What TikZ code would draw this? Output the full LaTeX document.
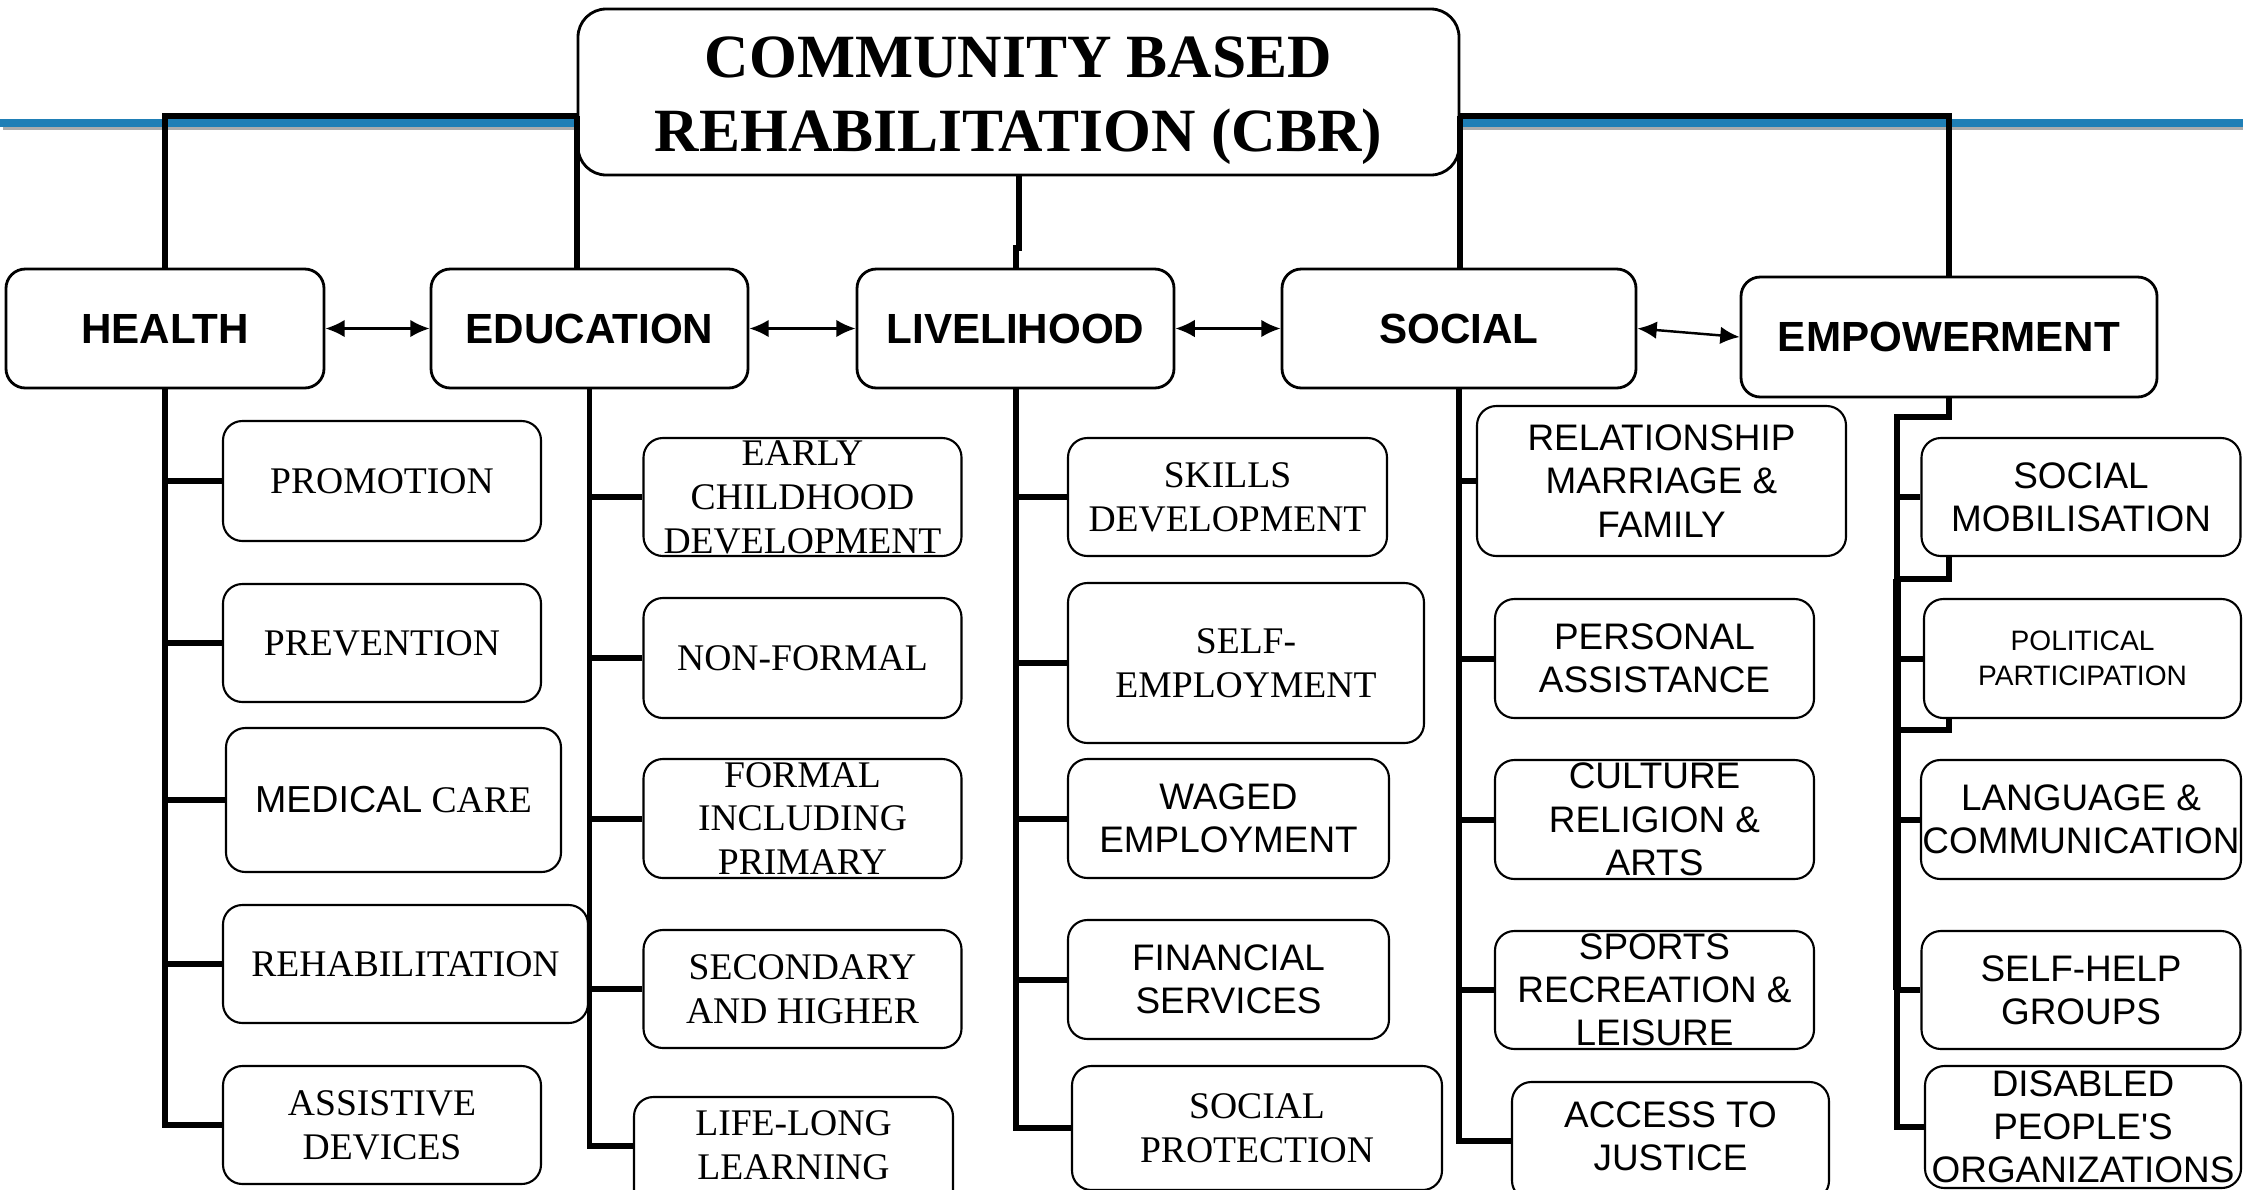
\documentclass[tikz,border=0pt]{standalone}
\usepackage{fontspec}
\setmainfont{Liberation Serif}
\setsansfont{Liberation Sans}[Ligatures=TeXOff]
\usetikzlibrary{arrows.meta}
\definecolor{barblue}{RGB}{31,127,182}

\begin{document}
\begin{tikzpicture}[
  every node/.style={draw, fill=white, rounded corners=5.5pt, align=center, inner sep=0pt},
  head/.style={line width=0.8pt, font=\sffamily\bfseries\fontsize{12}{14}\selectfont, minimum height=1.19cm},
  sub/.style={line width=0.6pt, font=\fontsize{10.7}{12.5}\selectfont},
  subsf/.style={line width=0.6pt, font=\sffamily\fontsize{10.5}{12.3}\selectfont},
  trunk/.style={line width=1.7pt},
  link/.style={{Latex[length=5.5pt,width=5pt]}-{Latex[length=5.5pt,width=5pt]}, line width=0.7pt}]
\useasboundingbox (0,0) rectangle (22.43,-11.89);
\clip (0,0) rectangle (22.43,-11.89);

% blue rule behind the title
\draw[gray!65, line width=0.85pt] (0.03,-1.285) -- (22.43,-1.285);
\draw[barblue, line width=2.3pt] (0,-1.23) -- (22.43,-1.23);
\coordinate (bar) at (0,-1.16);

% title and the five components
\node[line width=0.8pt, rounded corners=8pt, minimum width=8.81cm, minimum height=1.66cm,
  font=\bfseries\fontsize{17.5}{21}\selectfont] (title) at (10.185,-0.92) {\rule{0pt}{16.5pt}COMMUNITY BASED\\REHABILITATION (CBR)};
\node[head, minimum width=3.18cm] (health) at (1.650,-3.285) {HEALTH};
\node[head, minimum width=3.17cm] (education) at (5.895,-3.285) {EDUCATION};
\node[head, minimum width=3.17cm] (livelihood) at (10.155,-3.285) {LIVELIHOOD};
\node[head, minimum width=3.54cm] (social) at (14.590,-3.285) {SOCIAL};
\node[head, minimum width=4.16cm, minimum height=1.20cm] (empowerment) at (19.490,-3.370) {EMPOWERMENT};

% health
\node[sub, minimum width=3.18cm, minimum height=1.20cm] (promotion) at (3.820,-4.810) {PROMOTION};
\node[sub, minimum width=3.18cm, minimum height=1.18cm] (prevention) at (3.820,-6.430) {PREVENTION};
\node[sub, minimum width=3.35cm, minimum height=1.44cm] (medical) at (3.935,-8.000) {{\sffamily MEDICAL} CARE};
\node[sub, minimum width=3.65cm, minimum height=1.18cm] (rehab) at (4.055,-9.640) {REHABILITATION};
\node[sub, minimum width=3.18cm, minimum height=1.18cm] (assistive) at (3.820,-11.250) {ASSISTIVE\\DEVICES};

% education
\node[sub, minimum width=3.18cm, minimum height=1.18cm] (early) at (8.025,-4.970) {EARLY\\CHILDHOOD\\DEVELOPMENT};
\node[sub, minimum width=3.18cm, minimum height=1.20cm] (nonformal) at (8.025,-6.580) {NON-FORMAL};
\node[sub, minimum width=3.18cm, minimum height=1.19cm] (formal) at (8.025,-8.185) {FORMAL\\INCLUDING\\PRIMARY};
\node[sub, minimum width=3.18cm, minimum height=1.18cm] (secondary) at (8.025,-9.890) {SECONDARY\\AND HIGHER};
\node[sub, minimum width=3.19cm, minimum height=1.18cm] (lifelong) at (7.935,-11.560) {LIFE-LONG\\LEARNING\rule[-6pt]{0pt}{6pt}};

% livelihood
\node[sub, minimum width=3.19cm, minimum height=1.18cm] (skills) at (12.275,-4.970) {SKILLS\\DEVELOPMENT};
\node[sub, minimum width=3.56cm, minimum height=1.60cm] (selfemp) at (12.460,-6.630) {SELF-\\EMPLOYMENT};
\node[subsf, minimum width=3.21cm, minimum height=1.19cm] (waged) at (12.285,-8.185) {WAGED\\EMPLOYMENT};
\node[subsf, minimum width=3.21cm, minimum height=1.19cm] (financial) at (12.285,-9.795) {FINANCIAL\\SERVICES};
\node[sub, minimum width=3.70cm, minimum height=1.24cm] (socprot) at (12.570,-11.280) {SOCIAL\\PROTECTION};

% social
\node[subsf, minimum width=3.69cm, minimum height=1.50cm] (relation) at (16.615,-4.810) {RELATIONSHIP\\MARRIAGE \&\\FAMILY};
\node[subsf, minimum width=3.19cm, minimum height=1.19cm] (personal) at (16.545,-6.585) {PERSONAL\\ASSISTANCE};
\node[subsf, minimum width=3.19cm, minimum height=1.19cm] (culture) at (16.545,-8.195) {CULTURE\\RELIGION \&\\ARTS};
\node[subsf, minimum width=3.19cm, minimum height=1.18cm] (sports) at (16.545,-9.900) {SPORTS\\RECREATION \&\\LEISURE};
\node[subsf, minimum width=3.17cm, minimum height=1.18cm] (justice) at (16.705,-11.410) {ACCESS TO\\JUSTICE\rule[-3pt]{0pt}{3pt}};

% empowerment
\node[subsf, minimum width=3.19cm, minimum height=1.18cm] (mobil) at (20.810,-4.970) {SOCIAL\\MOBILISATION};
\node[subsf, minimum width=3.17cm, minimum height=1.19cm, font=\sffamily\fontsize{8}{9.8}\selectfont] (politic) at (20.825,-6.585) {POLITICAL\\PARTICIPATION};
\node[subsf, minimum width=3.20cm, minimum height=1.19cm] (language) at (20.810,-8.195) {LANGUAGE \&\\COMMUNICATION};
\node[subsf, minimum width=3.19cm, minimum height=1.18cm] (selfhelp) at (20.810,-9.900) {SELF-HELP\\GROUPS};
\node[subsf, minimum width=3.16cm, minimum height=1.22cm] (disabled) at (20.830,-11.270) {DISABLED\\PEOPLE'S\\ORGANIZATIONS};

% links from the title
\draw[trunk] (health.north) |- (title.west |- bar);
\draw[trunk] (title.west |- bar) -- (title.west |- education.north);
\draw[trunk] (title.south) -- ++(0,-0.72) -| (livelihood.north);
\draw[trunk] (title.east |- bar) -- (title.east |- social.north);
\draw[trunk] (title.east |- bar) -| (empowerment.north);

% arrows between components
\draw[link] (health.east) -- (education.west);
\draw[link] (education.east) -- (livelihood.west);
\draw[link] (livelihood.east) -- (social.west);
\draw[link] (social.east) -- (empowerment.west);

% health branches
\draw[trunk] (health.south) |- (promotion.west);
\draw[trunk] (health.south) |- (prevention.west);
\draw[trunk] (health.south) |- (medical.west);
\draw[trunk] (health.south) |- (rehab.west);
\draw[trunk] (health.south) |- (assistive.west);

% education branches
\draw[trunk] (education.south) |- (early.west);
\draw[trunk] (education.south) |- (nonformal.west);
\draw[trunk] (education.south) |- (formal.west);
\draw[trunk] (education.south) |- (secondary.west);
\draw[trunk] (education.south) |- ([yshift=0.1cm]lifelong.west);

% livelihood branches
\draw[trunk] (livelihood.south) |- (skills.west);
\draw[trunk] (livelihood.south) |- (selfemp.west);
\draw[trunk] (livelihood.south) |- (waged.west);
\draw[trunk] (livelihood.south) |- (financial.west);
\draw[trunk] (livelihood.south) |- (socprot.west);

% social branches
\draw[trunk] (social.south) |- (relation.west);
\draw[trunk] (social.south) |- (personal.west);
\draw[trunk] (social.south) |- (culture.west);
\draw[trunk] (social.south) |- (sports.west);
\draw[trunk] (social.south) |- (justice.west);

% empowerment branches
\coordinate (e1) at (18.97,-4.17);
\coordinate (e2) at (18.97,-5.79);
\coordinate (e3) at (18.97,-7.30);
\coordinate (e4) at (18.97,-9.90);
\draw[trunk] (empowerment.south) |- (e1) |- (mobil.west);
\draw[trunk] (e1) -- (e2);
\draw[trunk] (empowerment.south |- mobil.south) |- (e2);
\draw[trunk] (empowerment.south |- politic.south) |- (e3);
\draw[line width=2.4pt] (e2) -- (e4);
\draw[trunk] (e2) |- (politic.west);
\draw[trunk] (e2) |- (language.west);
\draw[trunk] (e2) |- (selfhelp.west);
\draw[trunk] (e2) |- (disabled.west);
\end{tikzpicture}
\end{document}
